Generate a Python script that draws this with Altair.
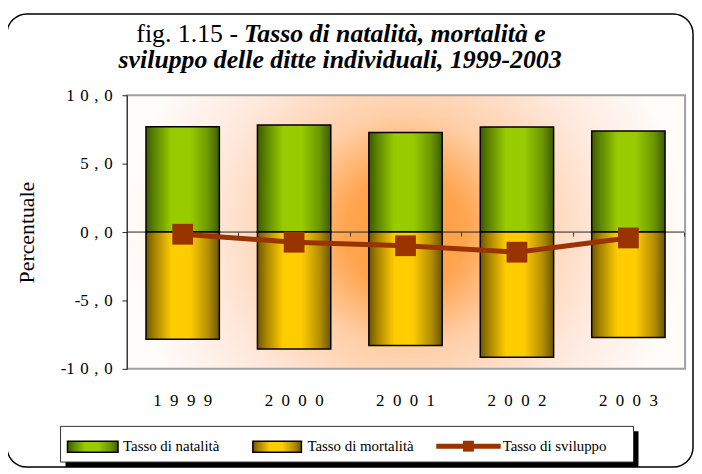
import altair as alt
import pandas as pd

years = ["1999", "2000", "2001", "2002", "2003"]
natalita = [7.70, 7.83, 7.27, 7.68, 7.39]
mortalita = [-7.83, -8.55, -8.30, -9.15, -7.70]
sviluppo = [-0.16, -0.74, -1.00, -1.47, -0.43]

title_fig = "fig. 1.15 -"
title_line1 = "Tasso di natalità, mortalità e"
title_line2 = "sviluppo delle ditte individuali, 1999-2003"
y_title = "Percentuale"
legend_labels = ["Tasso di natalità", "Tasso di mortalità", "Tasso di sviluppo"]

df = pd.DataFrame({"anno": years, "natalita": natalita,
                   "mortalita": mortalita, "sviluppo": sviluppo})

W, H = 562, 276
SERIF = "Liberation Serif"
one = alt.Data(values=[{}])

def stops(cols):
    return [alt.GradientStop(offset=o, color=c) for o, c in cols]

green = alt.LinearGradient(gradient="linear", x1=0, x2=1, y1=0, y2=0, stops=stops([
    (0, "#3d5800"), (0.12, "#5c8500"), (0.35, "#99cc00"), (0.6, "#99cc00"),
    (0.85, "#6b9600"), (1, "#3f5a00")]))
yellow = alt.LinearGradient(gradient="linear", x1=0, x2=1, y1=0, y2=0, stops=stops([
    (0, "#6e5500"), (0.12, "#a88400"), (0.35, "#ffcc00"), (0.6, "#ffcc00"),
    (0.85, "#b38f00"), (1, "#6b5500")]))
glow = alt.RadialGradient(gradient="radial", x1=0.5, y1=0.5, r1=0, x2=0.5, y2=0.5, r2=0.5,
                          stops=stops([(0, "#ff9a3c"), (0.22, "#ffa550"), (0.42, "#ffcfa8"),
                                       (0.7, "#ffe8dc"), (1, "#fffcfa")]))

xscale = alt.Scale(domain=years, paddingInner=0, paddingOuter=0)
yscale = alt.Scale(domain=[-10, 10], nice=False)

ylabel = ("(datum.value < 0 ? '-' : '') + join(split("
          "replace(format(abs(datum.value), '.1f'), '.', ','), ''), '\u2004')")
yaxis = alt.Axis(values=[-10, -5, 0, 5, 10], labelExpr=ylabel, grid=False, zindex=1,
                 labelFont=SERIF, labelFontSize=17, labelColor="black",
                 tickColor="#222", domainColor="#333", tickSize=5, labelPadding=10,
                 title=y_title, titleFont=SERIF, titleFontSize=22,
                 titleFontWeight="normal", titleColor="black", titlePadding=22)
xaxis_labels = alt.Axis(title=None, domain=False, ticks=False, labelAngle=0, zindex=1,
                        labelFont=SERIF, labelFontSize=17, labelColor="black",
                        labelPadding=24, labelExpr="join(split(datum.label,''),'\u2002')")
xaxis_ticks = alt.Axis(orient="bottom", offset=-H / 2, labels=False, domain=False, zindex=1,
                       ticks=True, tickBand="extent", tickSize=4, tickColor="#333",
                       title=None, grid=False)

frame = alt.Chart(one).mark_rect(fillOpacity=0, stroke="black", strokeWidth=1.5, cornerRadius=20).encode(
    x=alt.value(-121), x2=alt.value(571), y=alt.value(-82), y2=alt.value(375))

bg = alt.Chart(one).mark_rect(fill=glow).encode(
    x=alt.value(0), x2=alt.value(W), y=alt.value(0), y2=alt.value(H))

zero = alt.Chart(one).mark_rule(color="#222", strokeWidth=1).encode(
    y=alt.Y(datum=0, scale=yscale, axis=yaxis))

bars_n = alt.Chart(df).mark_bar(size=74, color=green, stroke="black", strokeWidth=1.5).encode(
    x=alt.X("anno:N", scale=xscale, sort=years, axis=xaxis_labels),
    y=alt.Y("natalita:Q", scale=yscale, axis=yaxis))

bars_m = alt.Chart(df).mark_bar(size=74, color=yellow, stroke="black", strokeWidth=1.5).encode(
    x=alt.X("anno:N", scale=xscale, sort=years, axis=None),
    y=alt.Y("mortalita:Q", scale=yscale, axis=yaxis))

border = alt.Chart(one).mark_rect(fillOpacity=0, stroke="#a0a0a0", strokeWidth=2).encode(
    x=alt.value(0), x2=alt.value(W + 1), y=alt.value(0), y2=alt.value(H))

line = alt.Chart(df).mark_line(color="#993300", strokeWidth=5).encode(
    x=alt.X("anno:N", scale=xscale, sort=years, axis=xaxis_ticks),
    y=alt.Y("sviluppo:Q", scale=yscale, axis=yaxis))

pts = alt.Chart(df).mark_point(shape="square", filled=True, size=440, color="#993300", opacity=1).encode(
    x=alt.X("anno:N", scale=xscale, sort=years, axis=None),
    y=alt.Y("sviluppo:Q", scale=yscale, axis=yaxis))

TS = 26
t_fig = alt.Chart(one).mark_text(font=SERIF, fontSize=TS, align="right", baseline="alphabetic",
                                 color="black").encode(
    x=alt.value(112), y=alt.value(-54), text=alt.value(title_fig))
t_l1 = alt.Chart(one).mark_text(font=SERIF, fontSize=TS, fontWeight="bold", fontStyle="italic",
                                align="left", baseline="alphabetic", color="black").encode(
    x=alt.value(118), y=alt.value(-54), text=alt.value(title_line1))
t_l2 = alt.Chart(one).mark_text(font=SERIF, fontSize=TS, fontWeight="bold", fontStyle="italic",
                                align="center", baseline="alphabetic", color="black").encode(
    x=alt.value(215), y=alt.value(-27), text=alt.value(title_line2))

# legend
LY = 354
leg_shadow = alt.Chart(one).mark_rect(fill="black").encode(
    x=alt.value(-62), x2=alt.value(516), y=alt.value(339), y2=alt.value(375))
leg_box = alt.Chart(one).mark_rect(fill="white", stroke="#333", strokeWidth=1).encode(
    x=alt.value(-67), x2=alt.value(511), y=alt.value(334), y2=alt.value(370))
sw_g = alt.Chart(one).mark_rect(fill=green, stroke="black", strokeWidth=1.5).encode(
    x=alt.value(-60), x2=alt.value(-9), y=alt.value(LY - 5), y2=alt.value(LY + 6))
sw_y = alt.Chart(one).mark_rect(fill=yellow, stroke="black", strokeWidth=1.5).encode(
    x=alt.value(127), x2=alt.value(176), y=alt.value(LY - 5), y2=alt.value(LY + 6))
leg_line = alt.Chart(one).mark_rule(color="#993300", strokeWidth=5).encode(
    x=alt.value(312), x2=alt.value(377), y=alt.value(LY))
leg_pt = alt.Chart(one).mark_point(shape="square", filled=True, size=120, color="#993300", opacity=1).encode(
    x=alt.value(344.5), y=alt.value(LY))

def leg_text(x, s):
    return alt.Chart(one).mark_text(font=SERIF, fontSize=15, align="left", baseline="middle",
                                    color="black").encode(x=alt.value(x), y=alt.value(LY), text=alt.value(s))

chart = alt.layer(
    frame, bg, zero, bars_n, bars_m, border, line, pts, t_fig, t_l1, t_l2,
    leg_shadow, leg_box, sw_g, sw_y, leg_line, leg_pt,
    leg_text(-4, legend_labels[0]), leg_text(182, legend_labels[1]), leg_text(379, legend_labels[2]),
).resolve_axis(x="independent").properties(
    width=W, height=H,
    padding={"left": 120, "top": 86, "right": 10, "bottom": 100},
    autosize=alt.AutoSizeParams(type="none"),
    background="white",
).configure_view(stroke=None)

chart.save("out.html", embed_options={"renderer": "svg", "actions": False})
